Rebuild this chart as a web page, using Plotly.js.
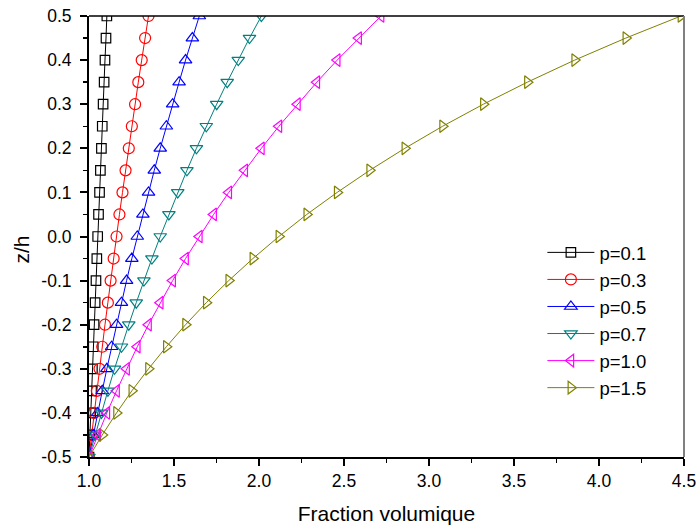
<!DOCTYPE html>
<html>
<head>
<meta charset="utf-8">
<script src="https://cdn.plot.ly/plotly-3.0.1.min.js"></script>
<style>
html,body{margin:0;padding:0;background:#fff;}
#chart{width:697px;height:526px;}
</style>
</head>
<body>
<div id="chart"></div>
<script>
// z/h positions of the points (shared by every series)
var zh = [-0.5, -0.45, -0.4, -0.35, -0.3, -0.25, -0.2, -0.15, -0.1, -0.05, 0.0,
          0.05, 0.1, 0.15, 0.2, 0.25, 0.3, 0.35, 0.4, 0.45, 0.5];

// Fraction volumique for each p
var p01 = [1.000, 1.005, 1.010, 1.015, 1.020, 1.025, 1.030, 1.036, 1.041, 1.046, 1.051,
           1.056, 1.062, 1.067, 1.073, 1.078, 1.083, 1.089, 1.094, 1.100, 1.105];
var p03 = [1.000, 1.015, 1.030, 1.046, 1.062, 1.078, 1.094, 1.111, 1.127, 1.145, 1.162,
           1.179, 1.197, 1.215, 1.234, 1.252, 1.271, 1.290, 1.310, 1.330, 1.350];
var p05 = [1.000, 1.025, 1.051, 1.078, 1.105, 1.133, 1.162, 1.191, 1.221, 1.252, 1.284,
           1.317, 1.350, 1.384, 1.419, 1.455, 1.492, 1.530, 1.568, 1.608, 1.649];
var p07 = [1.000, 1.036, 1.073, 1.111, 1.150, 1.191, 1.234, 1.278, 1.323, 1.370, 1.419,
           1.470, 1.522, 1.576, 1.632, 1.690, 1.751, 1.813, 1.878, 1.944, 2.014];
var p10 = [1.000, 1.051, 1.105, 1.162, 1.221, 1.284, 1.350, 1.419, 1.492, 1.568, 1.649,
           1.733, 1.822, 1.916, 2.014, 2.117, 2.226, 2.340, 2.460, 2.586, 2.718];
var p15 = [1.000, 1.078, 1.162, 1.252, 1.350, 1.455, 1.568, 1.690, 1.822, 1.964, 2.117,
           2.281, 2.460, 2.651, 2.858, 3.080, 3.320, 3.579, 3.857, 4.158, 4.482];

var seriesNames = ['p=0.1', 'p=0.3', 'p=0.5', 'p=0.7', 'p=1.0', 'p=1.5'];

var xTickVals = [1.0, 1.5, 2.0, 2.5, 3.0, 3.5, 4.0, 4.5];
var xTickText = ['1.0', '1.5', '2.0', '2.5', '3.0', '3.5', '4.0', '4.5'];
var yTickVals = [-0.5, -0.4, -0.3, -0.2, -0.1, 0.0, 0.1, 0.2, 0.3, 0.4, 0.5];
var yTickText = ['-0.5', '-0.4', '-0.3', '-0.2', '-0.1', '0.0', '0.1', '0.2', '0.3', '0.4', '0.5'];

var seriesData = [p01, p03, p05, p07, p10, p15];
var colors = ['#000000', '#ff0000', '#0000ff', '#008080', '#ff00ff', '#808000'];
var symbols = ['square-open', 'circle-open', 'triangle-up-open', 'triangle-down-open',
               'triangle-left-open', 'triangle-right-open'];
var sizes = [9.5, 11, 11, 11, 11, 11];

var traces = seriesData.map(function (xs, i) {
  return {
    type: 'scatter',
    mode: 'lines+markers',
    name: seriesNames[i],
    x: xs,
    y: zh,
    line: {color: colors[i], width: 1},
    marker: {symbol: symbols[i], size: sizes[i], color: colors[i],
             line: {color: colors[i], width: 1.2}},
    cliponaxis: true
  };
});

var font = 'Liberation Sans, Arial, sans-serif';

var layout = {
  width: 697, height: 526,
  margin: {l: 89, r: 13, t: 16, b: 69},
  paper_bgcolor: '#ffffff', plot_bgcolor: '#ffffff',
  showlegend: true,
  font: {family: font, color: '#000000', size: 17.5},
  xaxis: {
    range: [1.0, 4.5],
    tickvals: xTickVals, ticktext: xTickText,
    showgrid: false, zeroline: false,
    showline: true, linecolor: '#000000', linewidth: 2,
    ticks: 'outside', ticklen: 7, tickwidth: 2, tickcolor: '#000000',
    minor: {dtick: 0.25, ticks: 'outside', ticklen: 4, tickwidth: 1.5, tickcolor: '#000000', showgrid: false},
    tickfont: {family: font, size: 17.5, color: '#000000'},
    title: {text: 'Fraction volumique', font: {family: font, size: 21, color: '#000000'}, standoff: 16},
    fixedrange: true
  },
  yaxis: {
    range: [-0.5, 0.5],
    tickvals: yTickVals, ticktext: yTickText,
    showgrid: false, zeroline: false,
    showline: true, linecolor: '#000000', linewidth: 2,
    ticks: 'outside', ticklen: 7, tickwidth: 2, tickcolor: '#000000',
    minor: {dtick: 0.05, ticks: 'outside', ticklen: 4, tickwidth: 1.5, tickcolor: '#000000', showgrid: false},
    tickfont: {family: font, size: 17.5, color: '#000000'},
    ticklabelstandoff: 5,
    fixedrange: true
  },
  annotations: [{
    text: 'z/h', xref: 'paper', yref: 'paper', x: -0.113, y: 0.47,
    xanchor: 'center', yanchor: 'middle', textangle: -90, showarrow: false,
    font: {family: font, size: 21, color: '#000000'}
  }],
  shapes: [
    {type: 'line', xref: 'paper', yref: 'paper', x0: 0, x1: 1, y0: 1, y1: 1,
     line: {color: '#000000', width: 1.5}},
    {type: 'line', xref: 'paper', yref: 'paper', x0: 1, x1: 1, y0: 0, y1: 1,
     line: {color: '#808080', width: 2}}
  ],
  legend: {
    x: 0.762, y: 0.506, xanchor: 'left', yanchor: 'top',
    bgcolor: 'rgba(0,0,0,0)', borderwidth: 0,
    font: {family: font, size: 18.5, color: '#000000'},
    itemwidth: 47, tracegroupgap: 0
  }
};

Plotly.newPlot('chart', traces, layout, {displayModeBar: false, staticPlot: true});
</script>
</body>
</html>
